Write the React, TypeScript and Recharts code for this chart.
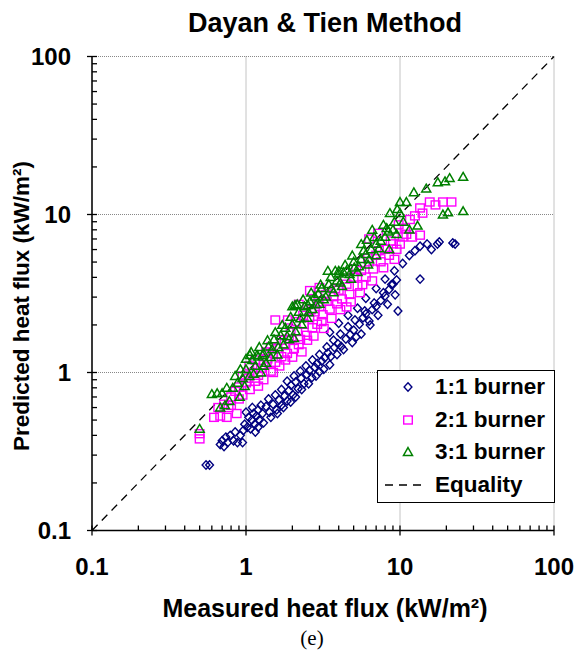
import React from 'react';
import { ScatterChart, Scatter, XAxis, YAxis, CartesianGrid, ReferenceLine, Legend } from 'recharts';

const MAJOR_TICKS = [0.1, 1, 10, 100];
const MINOR_TICKS = [0.2, 0.3, 0.4, 0.5, 0.6, 0.7, 0.8, 0.9, 2, 3, 4, 5, 6, 7, 8, 9, 20, 30, 40, 50, 60, 70, 80, 90];
const AXIS_TICKS = [...MAJOR_TICKS, ...MINOR_TICKS].sort((a, b) => a - b);
const TICK_LABELS: Record<number, string> = { 0.1: '0.1', 1: '1', 10: '10', 100: '100' };
const EQUALITY = [0.1, 100];

// [measured, predicted] in kW/m2
const burner11 = [
  [0.55, 0.26], [0.58, 0.26],
  [0.68, 0.35], [0.7, 0.37], [0.72, 0.34], [0.74, 0.39], [0.76, 0.36], [0.79, 0.4], [0.83, 0.37], [0.88, 0.36], [0.92, 0.4], [0.96, 0.43],
  [0.98, 0.47], [1.02, 0.45], [1.04, 0.52], [1.07, 0.44], [1.09, 0.5], [1.12, 0.55], [1.14, 0.47], [1.17, 0.53], [1.2, 0.58], [1.22, 0.5],
  [1.28, 0.55], [1.35, 0.61], [1.42, 0.56], [1.5, 0.63], [1.58, 0.58], [1.64, 0.67], [1.7, 0.62], [1.78, 0.71], [1.85, 0.66], [1.9, 0.77],
  [1.96, 0.83], [2.02, 0.72], [2.1, 0.87], [2.18, 0.79], [2.28, 0.92], [2.38, 0.85], [2.48, 0.97], [2.58, 1.03], [2.68, 0.93], [2.8, 1.08],
  [2.9, 1.14], [3.0, 1.01], [3.1, 1.18], [3.25, 1.24], [3.4, 1.33], [3.55, 1.26], [3.75, 1.44], [3.95, 1.52], [4.15, 1.46], [4.45, 1.63],
  [4.75, 1.74], [5.0, 1.85], [5.2, 1.68], [5.45, 2.02], [5.75, 2.22], [6.0, 2.35], [6.3, 2.12], [6.6, 2.5], [7.0, 2.62], [7.5, 2.85],
  [8.0, 3.05], [8.5, 3.35], [9.0, 3.62], [9.5, 3.85], [9.7, 2.45],
  [3.5, 1.8], [4.0, 2.05], [4.6, 2.3], [5.3, 2.55], [6.0, 2.95], [7.0, 3.4], [8.0, 3.9], [9.2, 4.4],
  [10.4, 4.9], [13.5, 3.9], [11.5, 5.5], [12.5, 5.9], [13.5, 6.3], [15.0, 6.5], [16.0, 6.0], [17.5, 6.5], [18.0, 6.7], [22.0, 6.6], [22.8, 6.5],
  [1.0, 0.56], [1.1, 0.6], [1.15, 0.42], [1.25, 0.62], [1.3, 0.48], [1.4, 0.68], [1.45, 0.52], [1.55, 0.72], [1.6, 0.55], [1.7, 0.78],
  [1.75, 0.6], [1.85, 0.88], [1.95, 0.65], [2.05, 0.95], [2.1, 0.7], [2.25, 1.02], [2.3, 0.78], [2.45, 1.1], [2.55, 0.85], [2.7, 1.2],
  [2.85, 0.95], [3.0, 1.3], [3.2, 1.05], [3.35, 1.45], [3.5, 1.12], [3.7, 1.6], [3.9, 1.3], [4.1, 1.75], [4.3, 1.4], [4.6, 1.95],
  [4.9, 1.55], [5.1, 2.15], [5.6, 1.75], [5.9, 2.45], [6.4, 2.0], [6.8, 2.75], [7.2, 2.3], [7.8, 3.2], [8.3, 2.7], [8.8, 3.6],
  [9.3, 3.1], [0.95, 0.36], [0.85, 0.42], [1.2, 0.45],
];

const burner21 = [
  [0.5, 0.38], [0.5, 0.41], [0.62, 0.52], [0.68, 0.53], [0.75, 0.52], [0.87, 0.55], [0.66, 0.6], [0.72, 0.63], [0.77, 0.6],
  [0.8, 0.7], [0.85, 0.76], [0.9, 0.81], [0.95, 0.72], [1.0, 0.86], [1.04, 0.92], [1.06, 0.78], [1.1, 1.0], [1.15, 0.88], [1.2, 0.96], [1.25, 1.06],
  [1.3, 1.12], [1.38, 1.22], [1.45, 1.02], [1.5, 1.32], [1.55, 1.16], [1.6, 1.42], [1.7, 1.26], [1.78, 1.52], [1.85, 1.32], [1.9, 1.62],
  [1.87, 2.15], [2.05, 1.42], [2.15, 1.82], [2.25, 1.62], [2.38, 2.02], [2.48, 1.72], [2.58, 2.22], [2.7, 1.92], [2.8, 2.42], [2.9, 2.02],
  [3.0, 2.62], [3.0, 3.45], [3.15, 2.32], [3.35, 2.82], [3.5, 2.52], [3.7, 3.02], [3.9, 2.72], [4.0, 3.32], [4.2, 2.92], [4.5, 3.62],
  [4.7, 3.12], [5.0, 4.02], [5.3, 3.52], [5.6, 4.42], [6.0, 4.02], [6.3, 5.02], [6.7, 4.52], [7.0, 5.52], [7.5, 5.02], [8.0, 6.02],
  [8.5, 5.52], [9.0, 6.52], [9.5, 6.02], [10.4, 7.2], [11.0, 7.5], [12.0, 7.2], [13.5, 7.4], [11.6, 9.3], [12.5, 9.8], [14.0, 10.2],
  [13.5, 11.0], [15.6, 12.0], [17.0, 11.5], [19.0, 12.0], [21.6, 12.0],
  [1.55, 2.15], [2.2, 2.7], [2.6, 3.3], [4.5, 2.6], [5.5, 3.2], [3.2, 1.9], [2.3, 1.35], [6.3, 7.0], [7.2, 7.6],
  [0.8, 0.62], [0.9, 0.68], [0.95, 0.95], [1.05, 1.1], [1.15, 1.2], [1.2, 0.82], [1.3, 0.9], [1.35, 1.35], [1.45, 1.45], [1.5, 1.0],
  [1.65, 1.1], [1.7, 1.6], [1.8, 1.2], [1.95, 1.8], [2.0, 1.25], [2.1, 2.1], [2.2, 1.5], [2.35, 2.3], [2.5, 1.6], [2.65, 2.5],
  [2.75, 1.7], [2.95, 2.8], [3.1, 2.1], [3.3, 3.1], [3.6, 2.2], [3.8, 3.4], [4.1, 2.5], [4.4, 3.9], [4.8, 2.8], [5.2, 4.5],
  [5.7, 3.6], [6.2, 5.3], [6.6, 3.8], [7.3, 5.9], [7.8, 4.6], [8.7, 6.8], [9.2, 5.2], [10.0, 6.5], [10.8, 8.2], [9.8, 8.6],
];

const burner31 = [
  [0.5, 0.44], [0.6, 0.73], [0.65, 0.74], [0.7, 0.74], [0.73, 0.62], [0.78, 0.66], [0.82, 0.8], [0.88, 0.86], [0.91, 0.7], [0.95, 0.92],
  [1.0, 1.05], [1.0, 1.22], [1.05, 0.95], [1.1, 1.2], [1.15, 1.1], [1.2, 1.26], [1.25, 1.0], [1.3, 1.32], [1.35, 1.15], [1.4, 1.46],
  [1.06, 1.29], [1.18, 1.29], [1.28, 1.29],
  [1.48, 1.4], [1.52, 1.62], [1.6, 1.3], [1.68, 1.72], [1.75, 1.5], [1.8, 1.92], [1.9, 1.62], [2.0, 2.02], [2.0, 2.62], [2.1, 1.82],
  [2.2, 2.42], [2.3, 2.02], [2.4, 2.62], [2.5, 2.22], [2.6, 2.82], [2.7, 2.52], [2.8, 3.02], [3.0, 2.72], [3.1, 3.42], [3.3, 3.02],
  [2.08, 2.67], [2.53, 2.67], [2.95, 3.15],
  [3.45, 3.62], [3.55, 4.02], [3.7, 3.22], [3.9, 3.82], [4.0, 4.22], [4.2, 3.52], [4.5, 4.42], [4.8, 3.92], [5.0, 5.02], [5.05, 4.62],
  [5.3, 4.32], [5.6, 5.22], [6.0, 5.62], [6.2, 4.82], [6.5, 6.02], [7.0, 6.52], [7.0, 5.52], [7.5, 6.82], [8.0, 7.22], [8.5, 6.02],
  [3.4, 4.4], [4.0, 4.4], [4.3, 4.3], [5.6, 6.5], [6.1, 6.9], [6.6, 8.0], [7.8, 8.6], [8.4, 7.8],
  [8.6, 10.2], [9.0, 8.02], [9.5, 7.52], [10.0, 12.0], [11.0, 12.0], [10.5, 9.0], [11.5, 8.02], [12.3, 13.8], [14.8, 14.6], [17.6, 16.0],
  [19.6, 16.2], [21.0, 17.0], [25.7, 17.3], [19.0, 10.0], [20.5, 10.3], [25.7, 10.5], [13.0, 8.5], [10.0, 10.2],
  [0.68, 0.6], [0.75, 0.8], [0.85, 0.95], [0.92, 1.05], [0.98, 0.82], [1.08, 1.35], [1.12, 0.98], [1.22, 1.45], [1.3, 1.1], [1.38, 1.6],
  [1.45, 1.25], [1.55, 1.8], [1.62, 1.45], [1.72, 2.0], [1.85, 1.7], [1.95, 2.25], [2.05, 1.65], [2.15, 2.7], [2.25, 2.2], [2.35, 2.9],
  [2.55, 2.4], [2.65, 3.2], [2.85, 2.7], [3.05, 3.6], [3.2, 2.9], [3.6, 3.4], [3.8, 4.4], [4.1, 3.7], [4.4, 4.8], [4.7, 4.2],
  [4.9, 5.5], [5.4, 4.7], [5.8, 5.9], [6.3, 5.2], [6.8, 7.2], [7.3, 6.1], [8.2, 8.2], [9.2, 9.0], [9.6, 10.8],
];

const FONT = '"Liberation Sans", Arial, sans-serif';
const NAVY = '#000080';
const MAGENTA = '#FF00FF';
const GREEN = '#008000';

const toPoints = (rows: number[][]) => rows.map(([x, y]) => ({ x, y }));
const equalityLine = EQUALITY.map((v) => ({ x: v, y: v }));

const Diamond = ({ cx, cy }: any) => {
  if (cx == null || cy == null) return null;
  return (
    <path d={`M${cx},${cy - 4.2} L${cx + 3.9},${cy} L${cx},${cy + 4.2} L${cx - 3.9},${cy} Z`} fill="none" stroke={NAVY} strokeWidth={1.4} />
  );
};

const Square = ({ cx, cy }: any) => {
  if (cx == null || cy == null) return null;
  return <rect x={cx - 4.3} y={cy - 4} width={8.6} height={8} fill="none" stroke={MAGENTA} strokeWidth={1.4} />;
};

const Triangle = ({ cx, cy }: any) => {
  if (cx == null || cy == null) return null;
  return (
    <path d={`M${cx},${cy - 4.4} L${cx + 4.5},${cy + 3.4} L${cx - 4.5},${cy + 3.4} Z`} fill="none" stroke={GREEN} strokeWidth={1.5} />
  );
};

const XTick = ({ x, y, payload }: any) => {
  const major = MAJOR_TICKS.includes(payload.value);
  return (
    <g>
      <line x1={x} x2={x} y1={y - 5} y2={major ? y + 5 : y} stroke="#000" strokeWidth={1.3} />
      {major && (
        <text x={x} y={y + 44} textAnchor="middle" fontFamily={FONT} fontWeight="bold" fontSize={24} fill="#000">
          {TICK_LABELS[payload.value]}
        </text>
      )}
    </g>
  );
};

const YTick = ({ x, y, payload }: any) => {
  const major = MAJOR_TICKS.includes(payload.value);
  return (
    <g>
      <line x1={major ? x - 5 : x} x2={x + 5} y1={y} y2={y} stroke="#000" strokeWidth={1.3} />
      {major && (
        <text x={x - 21} y={y + 8.5} textAnchor="end" fontFamily={FONT} fontWeight="bold" fontSize={24} fill="#000">
          {TICK_LABELS[payload.value]}
        </text>
      )}
    </g>
  );
};

const legendRows = [
  { label: '1:1 burner', Shape: Diamond },
  { label: '2:1 burner', Shape: Square },
  { label: '3:1 burner', Shape: Triangle },
];

const renderLegend = () => (
  <div
    style={{
      width: 176,
      height: 131,
      border: '1px solid #000',
      background: '#fff',
      fontFamily: FONT,
      fontWeight: 'bold',
      fontSize: 22.5,
      color: '#000',
      boxSizing: 'content-box',
    }}
  >
    {legendRows.map(({ label, Shape }) => (
      <div key={label} style={{ display: 'flex', alignItems: 'center', height: 32.5 }}>
        <svg width={57} height={20}>
          <Shape cx={30} cy={10} />
        </svg>
        <span>{label}</span>
      </div>
    ))}
    <div style={{ display: 'flex', alignItems: 'center', height: 32.5 }}>
      <svg width={57} height={20}>
        <line x1={7} x2={48} y1={10} y2={10} stroke="#000" strokeWidth={1.3} strokeDasharray="8 6" />
      </svg>
      <span>Equality</span>
    </div>
  </div>
);

export default function App() {
  return (
    <div style={{ position: 'absolute', left: 0, top: 0, width: 577, height: 651, background: '#fff' }}>
      <div
        style={{
          position: 'absolute',
          left: 325,
          top: 8,
          transform: 'translateX(-50%)',
          whiteSpace: 'nowrap',
          fontFamily: FONT,
          fontWeight: 'bold',
          fontSize: 27,
          lineHeight: '30px',
        }}
      >
        Dayan &amp; Tien Method
      </div>
      <ScatterChart width={577} height={651} margin={{ top: 56.5, right: 23, bottom: 80.5, left: 32 }}>
        <CartesianGrid stroke="#888" strokeDasharray="1 1" verticalValues={MAJOR_TICKS} horizontalValues={MAJOR_TICKS} />
        <XAxis
          type="number"
          dataKey="x"
          scale="log"
          domain={[0.1, 100]}
          ticks={AXIS_TICKS}
          interval={0}
          allowDataOverflow
          height={40}
          tickSize={0}
          tickMargin={0}
          tickLine={false}
          axisLine={{ stroke: '#000', strokeWidth: 1.5 }}
          tick={<XTick />}
        />
        <YAxis
          type="number"
          dataKey="y"
          scale="log"
          domain={[0.1, 100]}
          ticks={AXIS_TICKS}
          interval={0}
          allowDataOverflow
          width={60}
          tickSize={0}
          tickMargin={0}
          tickLine={false}
          axisLine={{ stroke: '#000', strokeWidth: 1.5 }}
          tick={<YTick />}
        />
        <ReferenceLine
          segment={equalityLine}
          stroke="#000"
          strokeWidth={1.3}
          strokeDasharray="8 6"
        />
        <Scatter name="1:1 burner" data={toPoints(burner11)} shape={<Diamond />} isAnimationActive={false} />
        <Scatter name="2:1 burner" data={toPoints(burner21)} shape={<Square />} isAnimationActive={false} />
        <Scatter name="3:1 burner" data={toPoints(burner31)} shape={<Triangle />} isAnimationActive={false} />
        <Legend
          layout="vertical"
          align="center"
          verticalAlign="middle"
          content={renderLegend}
          wrapperStyle={{ position: 'absolute', left: 377, top: 370, width: 178, height: 133 }}
        />
      </ScatterChart>
      <div
        style={{
          position: 'absolute',
          left: 325,
          top: 593,
          transform: 'translateX(-50%)',
          whiteSpace: 'nowrap',
          fontFamily: FONT,
          fontWeight: 'bold',
          fontSize: 25,
          lineHeight: '30px',
        }}
      >
        Measured heat flux (kW/m²)
      </div>
      <div
        style={{
          position: 'absolute',
          left: 312,
          top: 626,
          transform: 'translateX(-50%)',
          fontFamily: '"Liberation Serif", "Times New Roman", serif',
          fontSize: 21,
          lineHeight: '24px',
        }}
      >
        (e)
      </div>
      <div
        style={{
          position: 'absolute',
          left: 22,
          top: 306,
          transform: 'translate(-50%, -50%) rotate(-90deg)',
          whiteSpace: 'nowrap',
          fontFamily: FONT,
          fontWeight: 'bold',
          fontSize: 22.5,
          lineHeight: '28px',
        }}
      >
        Predicted heat flux (kW/m²)
      </div>
    </div>
  );
}
